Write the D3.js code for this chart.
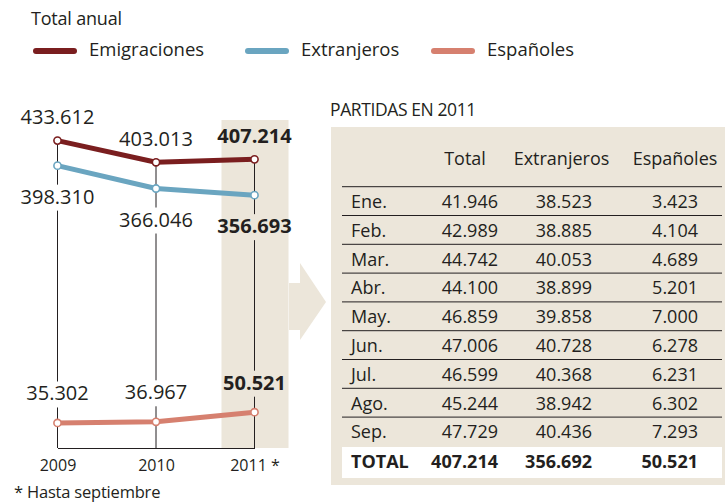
<!DOCTYPE html>
<html>
<head>
<meta charset="utf-8">
<script src="https://cdn.jsdelivr.net/npm/d3@7"></script>
<style>
  body { margin: 0; background: #fff; }
  svg { font-family: "Open Sans", sans-serif; }
</style>
</head>
<body>
<div id="container"></div>
<script>
/* CONSTANTS AND GLOBALS */
const width = 725,
    height = 503,
    ink = "#231f20",
    beige = "#ece6da";

/* DATA */
const years = ["2009", "2010", "2011"];
const seriesNames = ["Emigraciones", "Extranjeros", "Españoles"];
const emigraciones = [433612, 403013, 407214];
const extranjeros = [398310, 366046, 356693];
const espanoles = [35302, 36967, 50521];

const tableHeaders = ["Total", "Extranjeros", "Españoles"];
const months = ["Ene.", "Feb.", "Mar.", "Abr.", "May.", "Jun.", "Jul.", "Ago.", "Sep."];
const monthTotal = [41946, 42989, 44742, 44100, 46859, 47006, 46599, 45244, 47729];
const monthExtranjeros = [38523, 38885, 40053, 38899, 39858, 40728, 40368, 38942, 40436];
const monthEspanoles = [3423, 4104, 4689, 5201, 7000, 6278, 6231, 6302, 7293];
const totalLabel = "TOTAL";
const totalRow = [407214, 356692, 50521];

// colours and label placement per series
const colors = ["#7a1e1f", "#6aa5c0", "#d6806f"];
const labelDy = [-16.5, 38, -22.5];
const legendX = [36, 248, 434];

const es = d3.formatLocale({decimal: ",", thousands: ".", grouping: [3], currency: ["", " €"]});
const fmt = es.format(",");

const svg = d3.select("#container")
    .append("svg")
    .attr("width", width)
    .attr("height", height);

// TITLE + LEGEND
svg.append("text")
    .attr("x", 31).attr("y", 25)
    .style("font-size", "18px").attr("fill", ink)
    .attr("letter-spacing", "-0.2")
    .text("Total anual");

const leg = svg.selectAll("g.leg")
    .data(seriesNames)
    .join("g")
    .attr("class", "leg")
    .attr("transform", (d, i) => "translate(" + legendX[i] + ",51)");
leg.append("line")
    .attr("x1", 0).attr("x2", 38)
    .attr("stroke", (d, i) => colors[i])
    .attr("stroke-width", 6)
    .attr("stroke-linecap", "round");
leg.append("text")
    .attr("x", 53).attr("y", 5)
    .style("font-size", "18.5px").attr("fill", ink)
    .text(d => d);

// SCALES
const xScale = d3.scalePoint()
    .domain(years)
    .range([57.5, 254.5]);

const yScale = d3.scaleLinear()
    .domain([0, 450000])
    .range([448, 129]);

// highlight band for 2011
svg.append("rect")
    .attr("x", xScale("2011") - 33).attr("y", 120)
    .attr("width", 67).attr("height", 448 - 120)
    .attr("fill", beige);

// arrow to the table
svg.append("path")
    .attr("d", "M289,283 L300,283 L300,263 L326,302 L300,340 L300,330 L289,330 Z")
    .attr("fill", beige);

// vertical guide lines
const series = [emigraciones, extranjeros, espanoles];
svg.append("g")
    .selectAll("line")
    .data(years)
    .join("line")
    .attr("x1", d => xScale(d)).attr("x2", d => xScale(d))
    .attr("y1", (d, i) => yScale(d3.max(series, s => s[i])))
    .attr("y2", yScale(0))
    .attr("stroke", ink)
    .attr("stroke-width", 1);

// year axis (baseline + labels)
const xAxis = d3.axisBottom(xScale)
    .tickSize(0)
    .tickPadding(12)
    .tickFormat(d => d === "2011" ? "2011 *" : d);
const ax = svg.append("g")
    .attr("transform", "translate(0," + yScale(0) + ")")
    .call(xAxis);
ax.select(".domain").attr("stroke", ink).attr("stroke-width", 1);
ax.selectAll("text")
    .style("font-family", "'Open Sans', sans-serif")
    .style("font-size", "16px")
    .attr("fill", ink);

// value labels (with small gaps cut into the guide lines)
series.forEach((vals, si) => {
    const g = svg.append("g");
    const lab = g.selectAll("g")
        .data(vals)
        .join("g")
        .attr("transform", (d, i) => "translate(" + xScale(years[i]) + "," + (yScale(d) + labelDy[si]) + ")");
    lab.append("rect")
        .attr("x", -4).attr("y", -19)
        .attr("width", 8).attr("height", 26)
        .attr("fill", (d, i) => years[i] === "2011" ? beige : "#fff");
    lab.append("text")
        .attr("text-anchor", "middle")
        .style("font-size", "20px")
        .style("font-weight", (d, i) => years[i] === "2011" ? "bold" : "normal")
        .attr("fill", ink)
        .text(d => fmt(d));
});

// LINES
const line = d3.line()
    .x((d, i) => xScale(years[i]))
    .y(d => yScale(d));

series.forEach((vals, si) => {
    svg.append("path")
        .datum(vals)
        .attr("d", line)
        .attr("fill", "none")
        .attr("stroke", colors[si])
        .attr("stroke-width", 5)
        .attr("stroke-linejoin", "round");
    svg.append("g")
        .selectAll("circle")
        .data(vals)
        .join("circle")
        .attr("cx", (d, i) => xScale(years[i]))
        .attr("cy", d => yScale(d))
        .attr("r", 3.6)
        .attr("fill", "#fff")
        .attr("stroke", colors[si])
        .attr("stroke-width", 1.6);
});

// footnote
svg.append("text")
    .attr("x", 14).attr("y", 498)
    .style("font-size", "16.5px").attr("fill", ink)
    .attr("letter-spacing", "-0.2")
    .text("* Hasta septiembre");

// TABLE
svg.append("text")
    .attr("x", 330).attr("y", 116)
    .style("font-size", "17.5px").attr("fill", ink)
    .attr("letter-spacing", "-0.4")
    .text("PARTIDAS EN 2011");

svg.append("rect")
    .attr("x", 331).attr("y", 127)
    .attr("width", width - 331).attr("height", 485 - 127)
    .attr("fill", beige);

const colX = [498, 592, 698];
const headX = [465, 561.5, 675];
const rowY = d3.scaleLinear().domain([0, 1]).range([208, 236.8]);

svg.append("g")
    .selectAll("text")
    .data(tableHeaders)
    .join("text")
    .attr("x", (d, i) => headX[i]).attr("y", 165)
    .attr("text-anchor", "middle")
    .style("font-size", "18px").attr("fill", ink)
    .text(d => d);

// row rules
svg.append("g")
    .selectAll("line")
    .data(d3.range(months.length))
    .join("line")
    .attr("x1", 342).attr("x2", 722)
    .attr("y1", d => rowY(d) - 21.3).attr("y2", d => rowY(d) - 21.3)
    .attr("stroke", ink).attr("stroke-width", 1);

const rows = svg.append("g")
    .selectAll("g")
    .data(months)
    .join("g")
    .attr("transform", (d, i) => "translate(0," + rowY(i) + ")")
    .style("font-size", "18px")
    .attr("fill", ink);
rows.append("text").attr("x", 351).text(d => d);
[monthTotal, monthExtranjeros, monthEspanoles].forEach((col, ci) => {
    rows.append("text")
        .attr("x", colX[ci])
        .attr("text-anchor", "end")
        .text((d, i) => fmt(col[i]));
});

// total row
svg.append("rect")
    .attr("x", 342).attr("y", 447)
    .attr("width", 722 - 342).attr("height", 31)
    .attr("fill", "#fff");
const tot = svg.append("g")
    .style("font-size", "18px")
    .style("font-weight", "bold")
    .attr("fill", ink);
tot.append("text").attr("x", 351).attr("y", 468).text(totalLabel);
tot.selectAll("text.v")
    .data(totalRow)
    .join("text")
    .attr("class", "v")
    .attr("x", (d, i) => colX[i]).attr("y", 468)
    .attr("text-anchor", "end")
    .text(d => fmt(d));
</script>
</body>
</html>
